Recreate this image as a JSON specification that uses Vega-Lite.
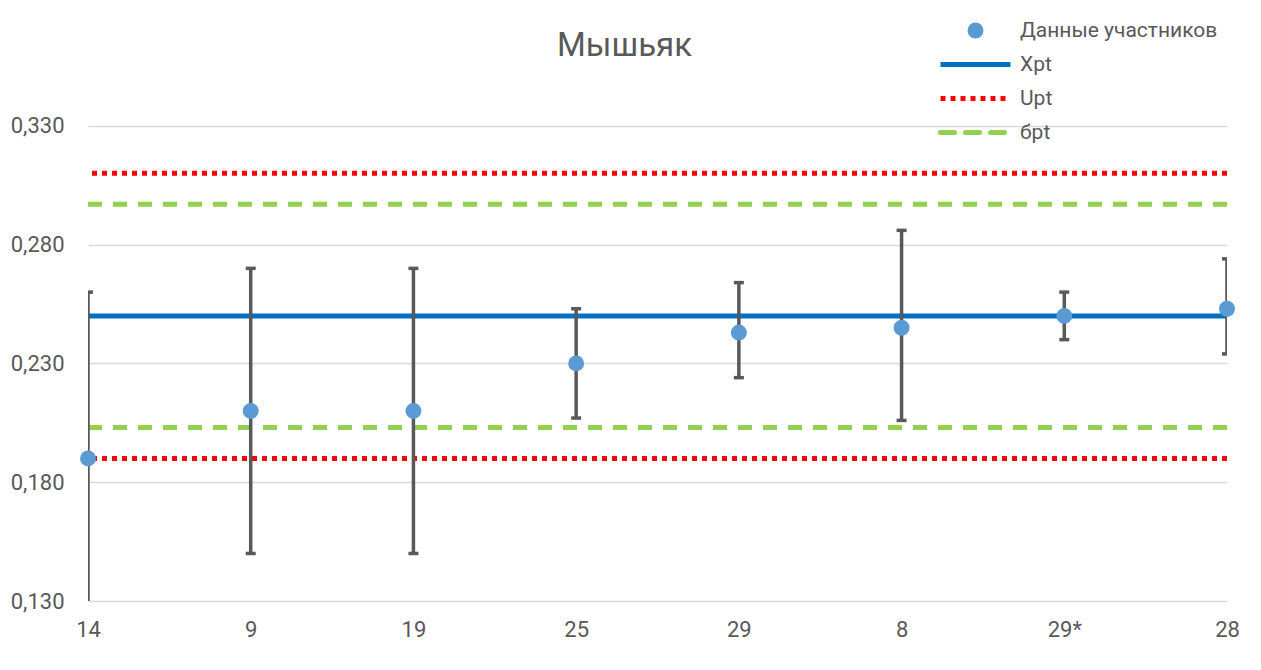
{
  "$schema": "https://vega.github.io/schema/vega-lite/v6.json",
  "autosize": "none",
  "width": 1139,
  "height": 594,
  "padding": {"left": 88, "top": 7, "right": 34, "bottom": 69},
  "background": "white",
  "config": {
    "view": {"stroke": null},
    "font": "Roboto"
  },
  "title": {
    "text": "Мышьяк",
    "font": "Roboto",
    "fontSize": 33,
    "fontWeight": "normal",
    "color": "#595959",
    "anchor": "middle",
    "dx": -33,
    "dy": 76,
    "baseline": "middle"
  },
  "datasets": {
    "pts": [
      {"lab": "14", "v": 0.190, "lo": 0.120, "hi": 0.260, "series": "Данные участников"},
      {"lab": "9", "v": 0.210, "lo": 0.150, "hi": 0.270, "series": "Данные участников"},
      {"lab": "19", "v": 0.210, "lo": 0.150, "hi": 0.270, "series": "Данные участников"},
      {"lab": "25", "v": 0.230, "lo": 0.207, "hi": 0.253, "series": "Данные участников"},
      {"lab": "29", "v": 0.243, "lo": 0.224, "hi": 0.264, "series": "Данные участников"},
      {"lab": "8", "v": 0.245, "lo": 0.206, "hi": 0.286, "series": "Данные участников"},
      {"lab": "29*", "v": 0.250, "lo": 0.240, "hi": 0.260, "series": "Данные участников"},
      {"lab": "28", "v": 0.253, "lo": 0.234, "hi": 0.274, "series": "Данные участников"}
    ],
    "refs": [
      {"series": "Xpt", "v": 0.250},
      {"series": "Upt", "v": 0.310},
      {"series": "Upt", "v": 0.190},
      {"series": "бpt", "v": 0.297},
      {"series": "бpt", "v": 0.203}
    ]
  },
  "encoding": {
    "x": {
      "field": "lab",
      "type": "nominal",
      "sort": ["14", "9", "19", "25", "29", "8", "29*", "28"],
      "scale": {"type": "point", "padding": 0},
      "axis": {
        "title": null,
        "labelAngle": 0,
        "labelFont": "Roboto",
        "labelFontSize": 22,
        "labelColor": "#595959",
        "labelPadding": 18,
        "domain": false,
        "ticks": false,
        "grid": false
      }
    }
  },
  "layer": [
    {
      "data": {"name": "refs"},
      "mark": {"type": "rule", "strokeWidth": 5},
      "encoding": {
        "x": null,
        "y": {
          "field": "v",
          "type": "quantitative",
          "scale": {"domain": [0.13, 0.38], "nice": false, "zero": false},
          "axis": {
            "title": null,
            "values": [0.13, 0.18, 0.23, 0.28, 0.33],
            "labelExpr": "replace(format(datum.value, '.3f'), '.', ',')",
            "labelFont": "Roboto",
            "labelFontSize": 22,
            "labelColor": "#595959",
            "labelPadding": 24,
            "domain": false,
            "ticks": false,
            "grid": true,
            "gridColor": "#d9d9d9",
            "gridWidth": 1.5
          }
        },
        "color": {
          "field": "series",
          "type": "nominal",
          "scale": {
            "domain": ["Данные участников", "Xpt", "Upt", "бpt"],
            "range": ["#5B9BD5", "#0070C0", "#FF0000", "#92D050"]
          },
          "legend": {
            "title": null,
            "orient": "none",
            "legendX": 877,
            "legendY": 13,
            "symbolType": "stroke",
            "symbolSize": 4900,
            "labelFont": "Roboto",
            "labelFontSize": 21,
            "labelColor": "#595959",
            "labelOffset": 34,
            "labelLimit": 400,
            "rowPadding": 12,
            "encode": {
              "symbols": {
                "update": {
                  "shape": {"signal": "datum.value == 'Данные участников' ? 'circle' : 'stroke'"},
                  "size": {"signal": "datum.value == 'Данные участников' ? 254 : 4900"},
                  "fill": {"signal": "datum.value == 'Данные участников' ? '#5B9BD5' : 'transparent'"},
                  "stroke": {"signal": "datum.value == 'Данные участников' ? '#5B9BD5' : datum.value == 'Xpt' ? '#0070C0' : datum.value == 'Upt' ? '#FF0000' : '#92D050'"},
                  "strokeWidth": {"signal": "datum.value == 'Данные участников' ? 0 : 5"},
                  "strokeDash": {"signal": "datum.value == 'Upt' ? [5, 5] : datum.value == 'бpt' ? [14, 11] : [1, 0]"},
                  "strokeCap": {"signal": "datum.value == 'бpt' ? 'round' : 'butt'"},
                  "opacity": {"value": 1}
                }
              }
            }
          }
        },
        "strokeDash": {
          "field": "series",
          "type": "nominal",
          "scale": {
            "domain": ["Xpt", "Upt", "бpt"],
            "range": [[1, 0], [5, 5], [14, 11]]
          },
          "legend": null
        },
        "strokeCap": {"value": "butt"}
      }
    },
    {
      "data": {"name": "pts"},
      "mark": {"type": "rule", "strokeWidth": 3.5, "color": "#595959", "clip": true},
      "encoding": {
        "y": {"field": "lo", "type": "quantitative"},
        "y2": {"field": "hi"}
      }
    },
    {
      "data": {"name": "pts"},
      "mark": {"type": "tick", "thickness": 3.5, "size": 10, "color": "#595959", "clip": true, "opacity": 1},
      "encoding": {
        "y": {"field": "hi", "type": "quantitative"}
      }
    },
    {
      "data": {"name": "pts"},
      "mark": {"type": "tick", "thickness": 3.5, "size": 10, "color": "#595959", "clip": true, "opacity": 1},
      "encoding": {
        "y": {"field": "lo", "type": "quantitative"}
      }
    },
    {
      "data": {"name": "pts"},
      "mark": {"type": "circle", "size": 254, "opacity": 1},
      "encoding": {
        "y": {"field": "v", "type": "quantitative"},
        "color": {"field": "series", "type": "nominal"}
      }
    }
  ]
}
